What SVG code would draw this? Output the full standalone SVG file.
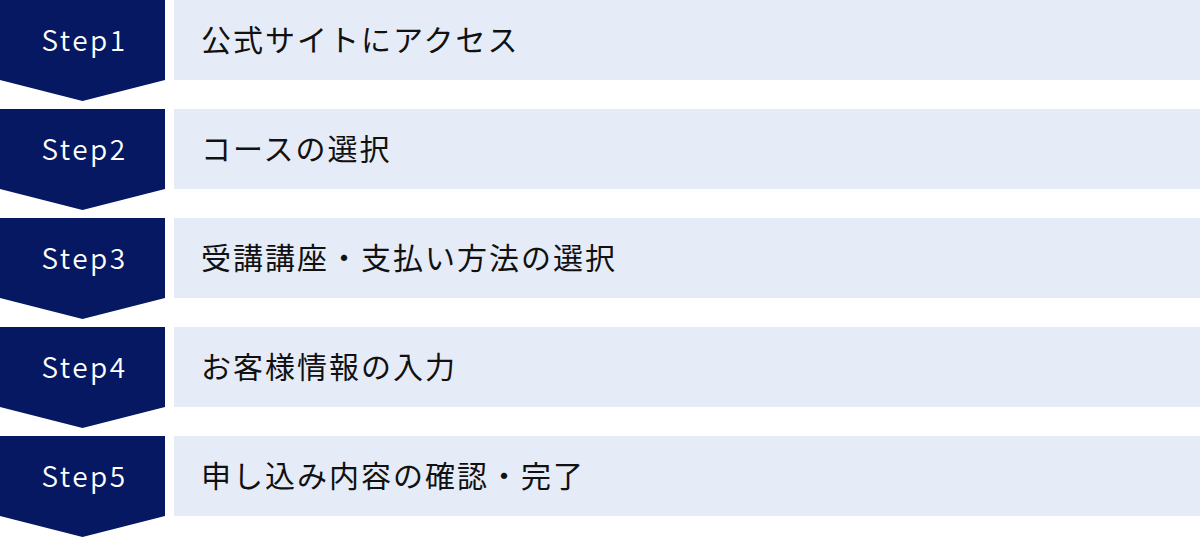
<svg xmlns="http://www.w3.org/2000/svg" width="1200" height="538" viewBox="0 0 1200 538">
<style>
.step{fill:#051861}
.box{fill:#E6EBF8}
.lbl{font-family:"Noto Sans CJK JP","Noto Sans",sans-serif;font-size:28px;font-weight:350;fill:#ffffff;text-anchor:middle;letter-spacing:2.5px}
.txt{font-family:"Noto Sans CJK JP","Noto Sans",sans-serif;font-size:30px;fill:#111111;letter-spacing:2px}
</style>
<rect width="1200" height="538" fill="#ffffff"/>
<defs>
<polygon id="chev" points="0,0 165,0 165,80 82.5,101 0,80"/>
</defs>
<g id="step1" transform="translate(0,0)">
<use href="#chev" class="step"/>
<rect class="box" x="174" y="0" width="1026" height="80"/>
<text class="lbl" x="84.5" y="51">Step1</text>
<text class="txt" x="201" y="51">公式サイトにアクセス</text>
</g>
<g id="step2" transform="translate(0,109)">
<use href="#chev" class="step"/>
<rect class="box" x="174" y="0" width="1026" height="80"/>
<text class="lbl" x="84.5" y="51">Step2</text>
<text class="txt" x="201" y="51">コースの選択</text>
</g>
<g id="step3" transform="translate(0,218)">
<use href="#chev" class="step"/>
<rect class="box" x="174" y="0" width="1026" height="80"/>
<text class="lbl" x="84.5" y="51">Step3</text>
<text class="txt" x="201" y="51">受講講座・支払い方法の選択</text>
</g>
<g id="step4" transform="translate(0,327)">
<use href="#chev" class="step"/>
<rect class="box" x="174" y="0" width="1026" height="80"/>
<text class="lbl" x="84.5" y="51">Step4</text>
<text class="txt" x="201" y="51">お客様情報の入力</text>
</g>
<g id="step5" transform="translate(0,436)">
<use href="#chev" class="step"/>
<rect class="box" x="174" y="0" width="1026" height="80"/>
<text class="lbl" x="84.5" y="51">Step5</text>
<text class="txt" x="201" y="51">申し込み内容の確認・完了</text>
</g>
<g id="connectors"></g>
</svg>
